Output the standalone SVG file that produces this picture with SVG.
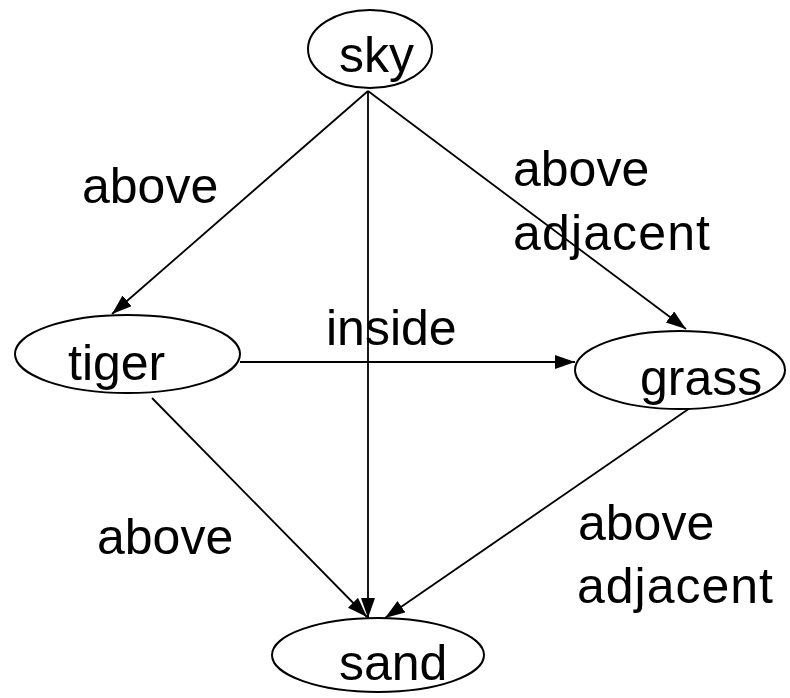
<svg xmlns="http://www.w3.org/2000/svg" width="790" height="698" viewBox="0 0 790 698">
<style>
.node ellipse{fill:#fff;stroke:#000;stroke-width:2}
text{font-family:"Liberation Sans",Arial,sans-serif;font-size:50px;fill:#000}
.edge{stroke:#000;stroke-width:1.8;fill:none;marker-end:url(#arr)}
</style>
<defs>
<marker id="arr" markerUnits="userSpaceOnUse" markerWidth="22" markerHeight="16" refX="20" refY="7" orient="auto">
<path d="M0,0 L20,7 L0,14 z" fill="#000"/>
</marker>
</defs>
<rect width="790" height="698" fill="#fff"/>
<g id="connectors">
<line class="edge" x1="368" y1="91" x2="112" y2="314"/>
<line class="edge" x1="368" y1="91" x2="368" y2="618"/>
<line class="edge" x1="368" y1="91" x2="686" y2="329"/>
<line class="edge" x1="240" y1="362" x2="575" y2="362"/>
<line class="edge" x1="152" y1="398" x2="367" y2="617"/>
<line class="edge" x1="690" y1="408" x2="385" y2="618"/>
</g>
<g id="edge-labels">
<text x="82" y="203">above</text>
<text x="513" y="186">above</text>
<text x="513" y="250" textLength="197">adjacent</text>
<text x="326" y="345">inside</text>
<text x="97" y="554">above</text>
<text x="578" y="540">above</text>
<text x="577" y="603" textLength="196">adjacent</text>
</g>
<g id="sky" class="node">
<ellipse cx="370" cy="49" rx="62" ry="39"/>
<text x="339" y="72">sky</text>
</g>
<g id="tiger" class="node">
<ellipse cx="127.5" cy="354" rx="112.5" ry="39"/>
<text x="68" y="380">tiger</text>
</g>
<g id="grass" class="node">
<ellipse cx="680" cy="370" rx="105" ry="39"/>
<text x="640" y="395">grass</text>
</g>
<g id="sand" class="node">
<ellipse cx="378" cy="655" rx="106" ry="37"/>
<text x="339" y="680">sand</text>
</g>
</svg>
